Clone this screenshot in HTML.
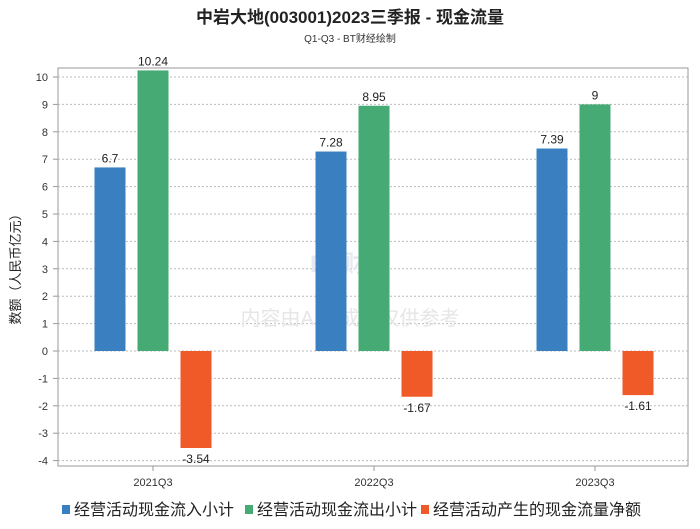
<!DOCTYPE html>
<html><head><meta charset="utf-8"><style>
body{margin:0;background:#fff;font-family:"Liberation Sans","Noto Sans CJK SC",sans-serif;}
</style></head><body>
<svg width="700" height="524" xmlns="http://www.w3.org/2000/svg" style="font-family:'Liberation Sans','Noto Sans CJK SC',sans-serif">
<text x="350" y="23" text-anchor="middle" font-size="17" font-weight="bold" fill="#222">中岩大地(003001)2023三季报 - 现金流量</text>
<text x="350" y="42" text-anchor="middle" font-size="10" fill="#333">Q1-Q3 - BT财经绘制</text>
<rect x="58" y="68" width="630" height="398" fill="none" stroke="#999"/>
<g id="grid"></g>
<text x="350" y="272" text-anchor="middle" font-size="24" fill="#e6eaf0" font-weight="bold">BT财经</text>
<text x="350" y="325" text-anchor="middle" font-size="20" fill="#e6e6e6">内容由AI生成，仅供参考</text>
<g id="bars"></g><g id="labels"></g>
<text transform="translate(20,266) rotate(-90)" text-anchor="middle" font-size="13" fill="#222">数额（人民币亿元）</text>
<g id="legend"></g>
</svg>
<script>
const categories=["2021Q3","2022Q3","2023Q3"];
const seriesNames=["经营活动现金流入小计","经营活动现金流出小计","经营活动产生的现金流量净额"];
const inflow=[6.7,7.28,7.39];
const outflow=[10.24,8.95,9];
const net=[-3.54,-1.67,-1.61];
const yTicks=[-4,-3,-2,-1,0,1,2,3,4,5,6,7,8,9,10];
const colors=["#3a80c0","#45aa74","#f05a28"];
const NS="http://www.w3.org/2000/svg";
const y=v=>351-v*27.4;
const x=i=>153+221*i;
function mk(tag,attrs,parent,text){const e=document.createElementNS(NS,tag);for(const k in attrs)e.setAttribute(k,attrs[k]);if(text!==undefined)e.textContent=text;document.getElementById(parent).appendChild(e);return e;}
yTicks.forEach(t=>{
 const l=mk('line',{x1:58,x2:688,y1:y(t),y2:y(t),stroke:'#bbb','stroke-dasharray':'2,2'},'grid');
 
 
 const tk=mk('line',{x1:53,x2:58,y1:y(t),y2:y(t),stroke:'#999'},'grid');
 
 
 const tx=mk('text',{x:48,y:y(t)+4,'text-anchor':'end','font-size':11,fill:'#333'},'grid',String(t));
 
 
});
mk('line',{x1:58,x2:688,y1:466,y2:466,stroke:'#999'},'grid');
const series=[inflow,outflow,net];
categories.forEach((c,i)=>{
 const tk=mk('line',{x1:x(i),x2:x(i),y1:466,y2:471,stroke:'#999'},'grid');
 
 
 const t=mk('text',{x:x(i),y:486,'text-anchor':'middle','font-size':11,fill:'#333'},'labels',c);
 
 
 series.forEach((s,j)=>{
  const v=s[i],cx=x(i)+(j-1)*43;
  const top=Math.min(y(v),y(0)),h=Math.abs(y(v)-y(0));
  const b=mk('rect',{x:cx-15.5,y:top,width:31,height:h,fill:colors[j]},'bars');
  
  
  const ly=v>=0?y(v)-5:y(v)+15;
  const lt=mk('text',{x:cx,y:ly,'text-anchor':'middle','font-size':12,fill:'#222'},'labels',String(v));
  
  
 });
});
const legendX=[62,245,421];
seriesNames.forEach((n,j)=>{
 const lx=legendX[j];
 const r=mk('rect',{x:lx,y:505,width:8,height:9,fill:colors[j]},'legend');
 
 
 const t=mk('text',{x:lx+12,y:515,'font-size':16,fill:'#222'},'legend',n);
 
 
});
</script>
</body></html>
